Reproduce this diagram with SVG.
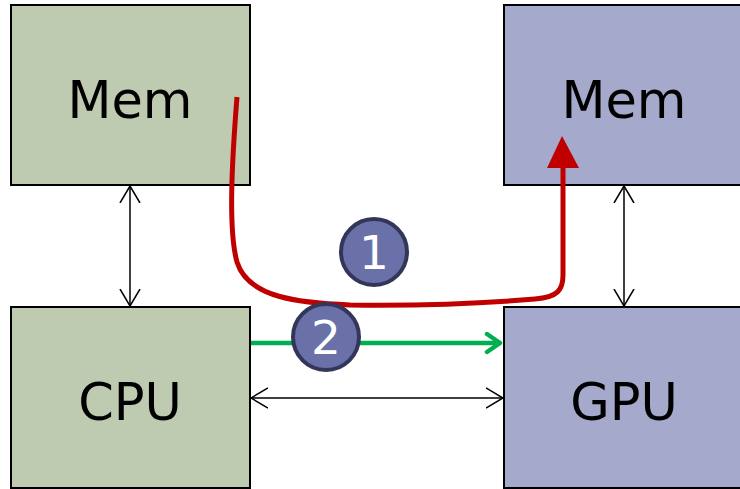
<svg xmlns="http://www.w3.org/2000/svg" width="740" height="489" viewBox="0 0 740 489">
<style>
.host{fill:#bfcbb1;stroke:#000;stroke-width:2}
.dev{fill:#a5a9cb;stroke:#000;stroke-width:2}
.lbl{font-family:"DejaVu Sans",Verdana,sans-serif;font-size:51px;fill:#000;text-anchor:middle}
.thin{stroke:#000;stroke-width:1.5;fill:none}
.badge{fill:#6a70a8;stroke:#333658;stroke-width:4}
.num{font-family:"DejaVu Sans",Verdana,sans-serif;font-size:47px;fill:#fff;text-anchor:middle}
</style>
<defs>
<marker id="open" viewBox="0 0 18 22" refX="17" refY="11" markerWidth="18" markerHeight="22" markerUnits="userSpaceOnUse" orient="auto-start-reverse">
<path d="M0,1 L17,11 L0,21" fill="none" stroke="#000" stroke-width="1.5"/>
</marker>
<marker id="green" viewBox="0 0 20 24" refX="18" refY="12" markerWidth="20" markerHeight="24" markerUnits="userSpaceOnUse" orient="auto">
<path d="M4,3 L17,12 L4,21" fill="none" stroke="#00b050" stroke-width="4.5" stroke-linecap="round" stroke-linejoin="round"/>
</marker>
</defs>
<g id="cpu-mem"><rect class="host" x="11" y="5" width="239" height="180"/><text class="lbl" x="130" y="118">Mem</text></g>
<g id="gpu-mem"><rect class="dev" x="504" y="5" width="245" height="180"/><text class="lbl" x="624" y="118">Mem</text></g>
<g id="cpu"><rect class="host" x="11" y="307" width="239" height="181"/><text class="lbl" x="130" y="420">CPU</text></g>
<g id="gpu"><rect class="dev" x="504" y="307" width="245" height="181"/><text class="lbl" x="624" y="420">GPU</text></g>
<g id="connectors">
<line class="thin" x1="130" y1="186" x2="130" y2="306" marker-start="url(#open)" marker-end="url(#open)"/>
<line class="thin" x1="624" y1="186" x2="624" y2="306" marker-start="url(#open)" marker-end="url(#open)"/>
<line class="thin" x1="251" y1="398" x2="503" y2="398" marker-start="url(#open)" marker-end="url(#open)"/>
<path d="M237,97 C232,160 228,230 237,262 C248,298 300,303 350,305 C430,306 500,302 535,299 C558,297 563,290 563,275 L563,166" fill="none" stroke="#c00000" stroke-width="5"/>
<polygon points="562,136 547,168 579,168" fill="#c00000"/>
<line x1="251" y1="343" x2="501" y2="343" stroke="#00b050" stroke-width="4.5" marker-end="url(#green)"/>
</g>
<g id="badge1"><circle class="badge" cx="374" cy="252" r="33"/><text class="num" x="374" y="269">1</text></g>
<g id="badge2"><circle class="badge" cx="326" cy="337" r="33"/><text class="num" x="326" y="354">2</text></g>
</svg>
